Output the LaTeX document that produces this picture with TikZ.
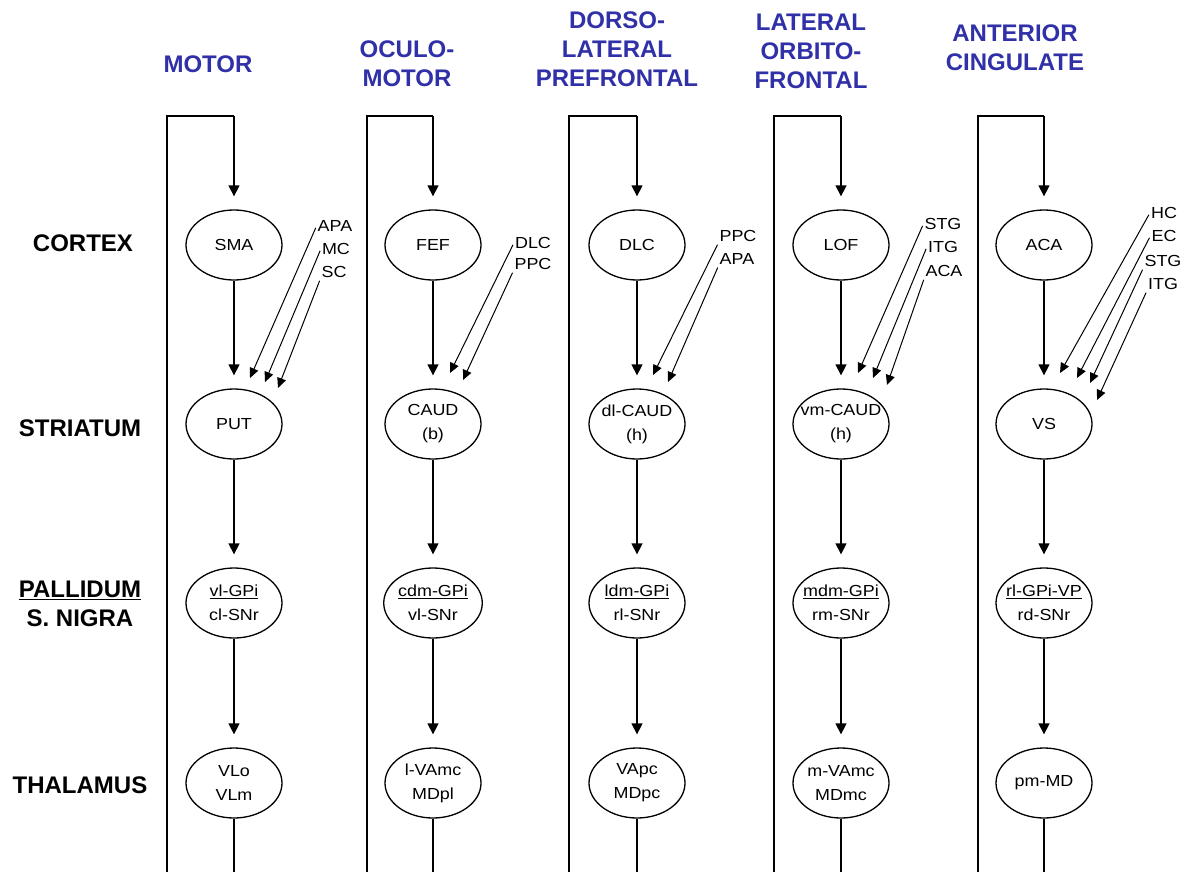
\documentclass[tikz,border=0pt]{standalone}
\usepackage{fontspec}
\setmainfont{Liberation Sans}
\newfontfamily\nodefont[FakeStretch=1.12]{Liberation Sans}
\usetikzlibrary{shapes.geometric,arrows.meta}
\definecolor{titleblue}{RGB}{48,48,168}
\tikzset{
 region/.style={ellipse,draw,line width=1.3pt,minimum width=96pt,minimum height=70pt,inner sep=0pt,
   font=\nodefont\fontsize{16}{24}\selectfont,align=center},
 coltitle/.style={font=\bfseries\fontsize{24}{29}\selectfont,text=titleblue,align=center,inner sep=0pt},
 rowlabel/.style={font=\bfseries\fontsize{24}{29}\selectfont,align=center,inner sep=0pt},
 src/.style={font=\nodefont\fontsize{16}{20}\selectfont,inner sep=1pt},
 flow/.style={line width=1.3pt,-{Triangle[length=11pt,width=11pt]},shorten >=13pt},
 input/.style={line width=1pt,-{Triangle[length=10pt,width=9pt]},shorten <=2pt},
 loopline/.style={line width=1.3pt},
}
\begin{document}
\begin{tikzpicture}[x=1pt,y=-1pt]
\useasboundingbox[fill=white] (0,0) rectangle (1188,872);

% column titles
\node[coltitle] (tmotor) at (208,64) {MOTOR};
\node[coltitle] (toculo) at (407,64) {OCULO-\\MOTOR};
\node[coltitle] (tdlpf) at (617,49) {DORSO-\\LATERAL\\PREFRONTAL};
\node[coltitle] (tlof) at (811,51) {LATERAL\\ORBITO-\\FRONTAL};
\node[coltitle] (tac) at (1015,48) {ANTERIOR\\CINGULATE};

% row labels
\node[rowlabel] (rcortex) at (83,243) {CORTEX};
\node[rowlabel] (rstr) at (80,428) {STRIATUM};
\node[rowlabel] (rpal) at (80,604) {\underline{PALLIDUM}\\S. NIGRA};
\node[rowlabel] (rthal) at (80,785) {THALAMUS};

% nodes
\foreach \i/\cx/\lx/\a/\b/\c/\d in {
  1/234/167/SMA/PUT/{\underline{vl-GPi}\\cl-SNr}/{VLo\\VLm},
  2/433/367/FEF/{CAUD\\(b)}/{\underline{cdm-GPi}\\vl-SNr}/{l-VAmc\\MDpl},
  3/637/569/DLC/{\makebox[0pt]{dl-CAUD}\\(h)}/{\underline{ldm-GPi}\\rl-SNr}/{VApc\\MDpc},
  4/841/774/LOF/{\makebox[0pt]{vm-CAUD}\\(h)}/{\makebox[0pt]{\underline{mdm-GPi}}\\rm-SNr}/{m-VAmc\\MDmc},
  5/1044/978/ACA/VS/{\makebox[0pt]{\underline{rl-GPi-VP}}\\rd-SNr}/pm-MD}{
  \node[region] (ctx\i) at (\cx,245) {\a};
  \node[region] (str\i) at (\cx,424) {\b};
  \node[region] (pal\i) at (\cx,603) {\c};
  \node[region] (thl\i) at (\cx,783) {\d};
  \coordinate (lb\i) at (\lx,872);
  \coordinate (lt\i) at (\cx,116);
  \coordinate (end\i) at (\cx,872);
  \draw[loopline] (lb\i) |- (lt\i);
  \draw[flow] (lt\i) -- (ctx\i);
  \draw[flow] (ctx\i) -- (str\i);
  \draw[flow] (str\i) -- (pal\i);
  \draw[flow] (pal\i) -- (thl\i);
  \draw[loopline] (thl\i) -- (end\i);
}

% extra inputs to striatum
% column 1
\node[src] (apa1) at (335,226) {APA};
\node[src] (mc1) at (336,249) {MC};
\node[src] (sc1) at (334,272) {SC};
\coordinate (t1a) at (250,378);
\coordinate (t1b) at (265,382);
\coordinate (t1c) at (278,388);
\draw[input] (apa1.west) -- (t1a);
\draw[input] (mc1.west) -- (t1b);
\draw[input] (sc1.south west) -- (t1c);
% column 2
\node[src] (dlc2) at (533,243) {DLC};
\node[src] (ppc2) at (533,264) {PPC};
\coordinate (t2a) at (450,373);
\coordinate (t2b) at (463,380);
\draw[input] (dlc2.west) -- (t2a);
\draw[input] (ppc2.south west) -- (t2b);
% column 3
\node[src] (ppc3) at (738,236) {PPC};
\node[src] (apa3) at (737,259) {APA};
\coordinate (t3a) at (653,375);
\coordinate (t3b) at (668,382);
\draw[input] (ppc3.south west) -- (t3a);
\draw[input] (apa3.south west) -- (t3b);
% column 4
\node[src] (stg4) at (943,224) {STG};
\node[src] (itg4) at (943,247) {ITG};
\node[src] (aca4) at (944,271) {ACA};
\coordinate (t4a) at (858,373);
\coordinate (t4b) at (873,378);
\coordinate (t4c) at (887,385);
\draw[input] (stg4.west) -- (t4a);
\draw[input] (itg4.west) -- (t4b);
\draw[input] (aca4.south west) -- (t4c);
% column 5
\node[src] (hc5) at (1164,213) {HC};
\node[src] (ec5) at (1164,236) {EC};
\node[src] (stg5) at (1163,261) {STG};
\node[src] (itg5) at (1163,284) {ITG};
\coordinate (t5a) at (1060,373);
\coordinate (t5b) at (1077,378);
\coordinate (t5c) at (1090,383);
\coordinate (t5d) at (1097,400);
\draw[input] (hc5.west) -- (t5a);
\draw[input] (ec5.west) -- (t5b);
\draw[input] (stg5.south west) -- (t5c);
\draw[input] (itg5.south west) -- (t5d);
\end{tikzpicture}
\end{document}
